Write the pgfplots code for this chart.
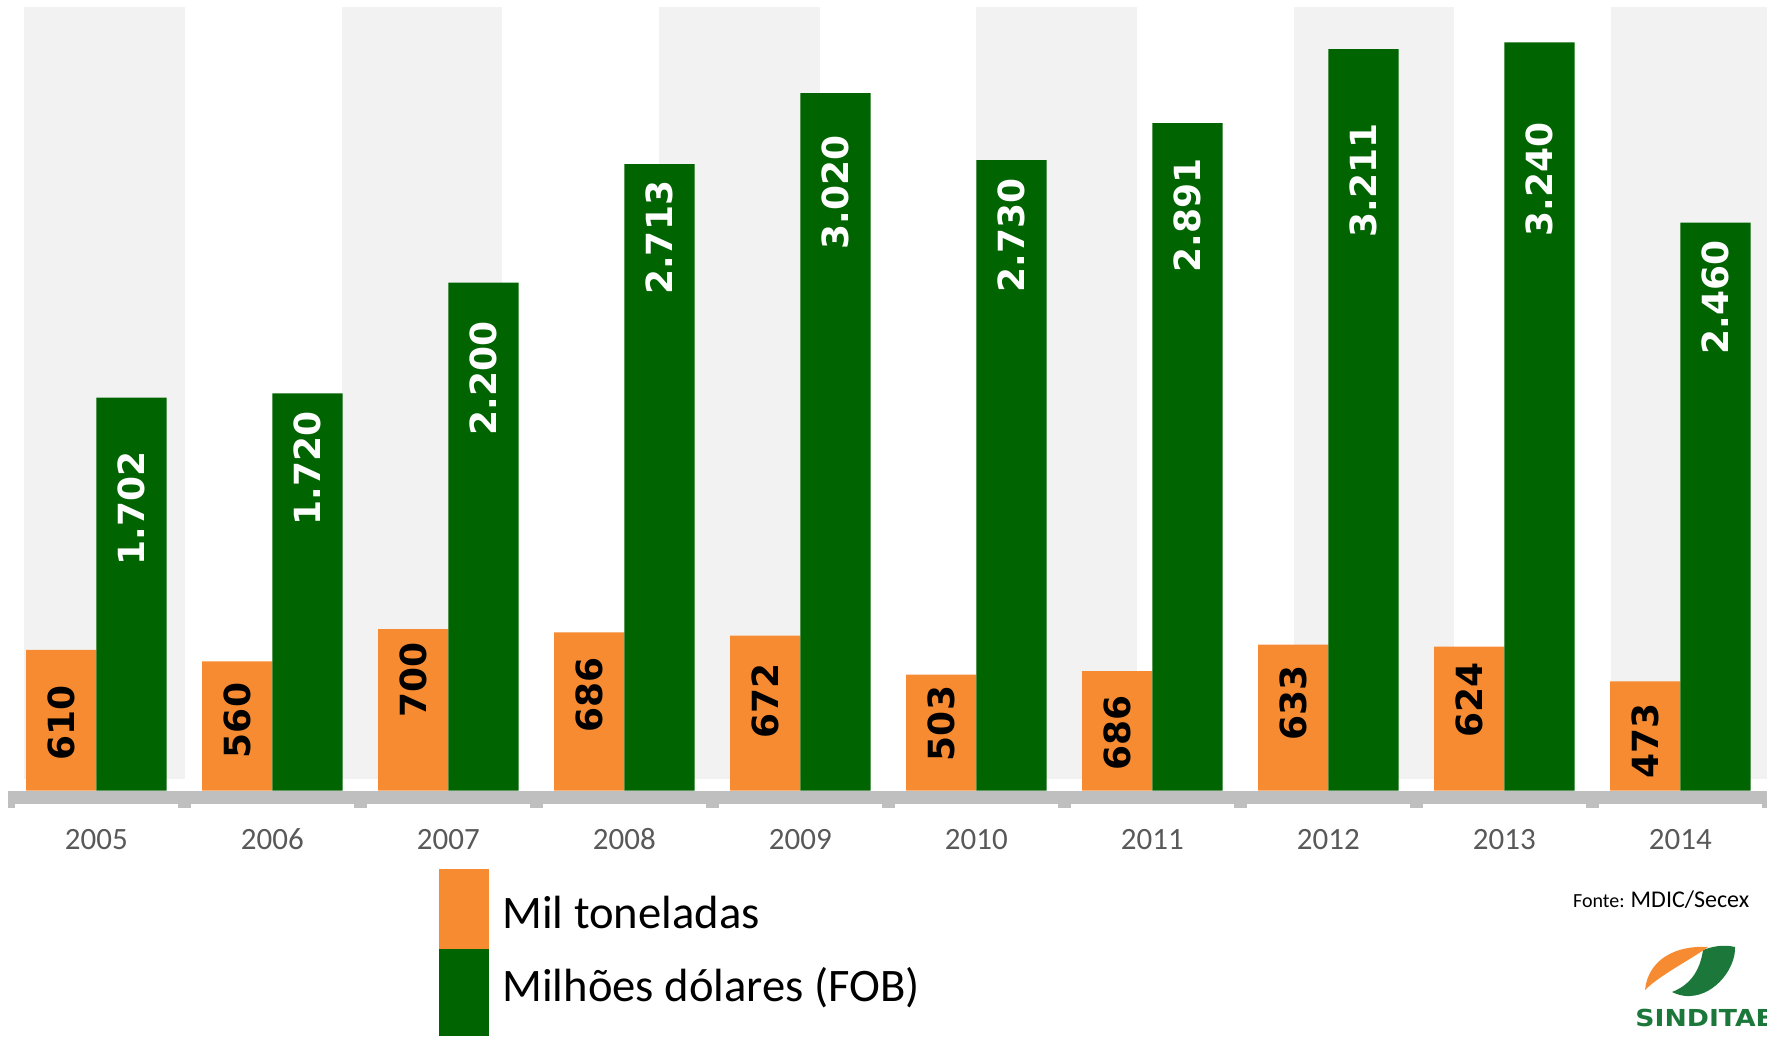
\documentclass[border=0pt]{standalone}
\usepackage{pgfplots}
\pgfplotsset{compat=1.18}
\usepackage{pgfplotstable}
\usepackage{fontspec}
\setmainfont{Carlito}
\newfontfamily\lblfont{DejaVu Sans}
\definecolor{cOrange}{RGB}{246,139,49}
\definecolor{cGreen}{RGB}{0,100,0}
\definecolor{cBand}{RGB}{242,242,242}
\definecolor{cAxis}{RGB}{191,191,191}
\definecolor{cTick}{RGB}{89,89,89}
\definecolor{cLogoG}{RGB}{28,120,58}

\pgfplotstableread{
x ton usd
0 610 1702
1 560 1720
2 700 2200
3 686 2713
4 672 3020
5 503 2730
6 518 2891
7 633 3211
8 624 3240
9 473 2460
}\bars

\pgfplotstableread{
x y lab
-0.2 295 610
0.8 304 560
1.8 481 700
2.8 413 686
3.8 388 672
4.8 291 503
5.8 250 686
6.8 380 633
7.8 391 624
8.8 215 473
}\tonlabels

\pgfplotstableread{
x y lab
0.2 1223 1.702
1.2 1394 1.720
2.2 1784 2.200
3.2 2394 2.713
4.2 2589 3.020
5.2 2404 2.730
6.2 2492 2.891
7.2 2643 3.211
8.2 2648 3.240
9.2 2135 2.460
}\usdlabels

\begin{document}
\begin{tikzpicture}
\path[use as bounding box] (0,0) rectangle (883.5pt,519.5pt);
\begin{axis}[
  at={(4.15pt,124.15pt)}, anchor=south west,
  scale only axis, width=880pt, height=395.35pt,
  xmin=-0.5, xmax=9.5, ymin=0, ymax=3423.7,
  clip=false,
  axis line style={draw=none},
  ytick=\empty,
  xtick={0,...,9},
  xticklabels={2005,2006,2007,2008,2009,2010,2011,2012,2013,2014},
  major tick length=0pt,
  xtick style={draw=none},
  xticklabel style={font=\fontsize{15.5}{17}\selectfont, text=cTick, anchor=base, yshift=-29.2pt},
]
% background stripes
\addplot[fill=cBand, draw=none, forget plot] coordinates {(-0.408,50.7) (0.504,50.7) (0.504,3393) (-0.408,3393)} -- cycle;
\addplot[fill=cBand, draw=none, forget plot] coordinates {(1.395,50.7) (2.307,50.7) (2.307,3393) (1.395,3393)} -- cycle;
\addplot[fill=cBand, draw=none, forget plot] coordinates {(3.198,50.7) (4.110,50.7) (4.110,3393) (3.198,3393)} -- cycle;
\addplot[fill=cBand, draw=none, forget plot] coordinates {(5.001,50.7) (5.913,50.7) (5.913,3393) (5.001,3393)} -- cycle;
\addplot[fill=cBand, draw=none, forget plot] coordinates {(6.804,50.7) (7.716,50.7) (7.716,3393) (6.804,3393)} -- cycle;
\addplot[fill=cBand, draw=none, forget plot] coordinates {(8.607,50.7) (9.5,50.7) (9.5,3393) (8.607,3393)} -- cycle;
% bars
\addplot[ybar, bar width=35.15pt, bar shift=-17.575pt, fill=cOrange, draw=none] table[x=x,y=ton]{\bars};
\addplot[ybar, bar width=35.15pt, bar shift=17.575pt, fill=cGreen, draw=none] table[x=x,y=usd]{\bars};
% value labels
\addplot[draw=none, mark=none, nodes near coords, point meta=explicit symbolic,
  nodes near coords align={center},
  every node near coord/.append style={rotate=90, inner sep=0pt, text=black, font=\lblfont\bfseries\fontsize{18}{18}\selectfont}]
  table[x=x,y=y,meta=lab]{\tonlabels};
\addplot[draw=none, mark=none, nodes near coords, point meta=explicit symbolic,
  nodes near coords align={center},
  every node near coord/.append style={rotate=90, inner sep=0pt, text=white, font=\lblfont\bfseries\fontsize{18}{18}\selectfont}]
  table[x=x,y=y,meta=lab]{\usdlabels};
% axis bar and ticks
\fill[cAxis] (axis cs:-0.5,0) rectangle ([yshift=-6.65pt]axis cs:9.5,0);
\fill[cAxis] ([yshift=-6.5pt]axis cs:-0.5,0) rectangle ([xshift=3.3pt,yshift=-8.6pt]axis cs:-0.5,0);
\pgfplotsinvokeforeach{0.5,1.5,2.5,3.5,4.5,5.5,6.5,7.5,8.5,9.5}{
  \fill[cAxis] ([xshift=-3.25pt,yshift=-6.5pt]axis cs:#1,0) rectangle ([xshift=3.25pt,yshift=-8.6pt]axis cs:#1,0);
}
\end{axis}
% legend
\fill[cOrange] (219.5pt,45pt) rectangle (244.5pt,85pt);
\fill[cGreen] (219.5pt,1.5pt) rectangle (244.5pt,45pt);
\node[anchor=base west, inner sep=0pt, font=\fontsize{23.3}{26}\selectfont] at (251pt,55pt) {Mil toneladas};
\node[anchor=base west, inner sep=0pt, font=\fontsize{23.3}{26}\selectfont] at (251pt,18.7pt) {Milhões dólares (FOB)};
% source
\node[anchor=base west, inner sep=0pt] at (786.35pt,65.5pt) {{\fontsize{10}{12}\selectfont Fonte:} {\fontsize{12}{14}\selectfont MDIC/Secex}};
% logo
\fill[cLogoG] (851.5pt,44.5pt) .. controls (858pt,47pt) and (863pt,47pt) .. (867.5pt,46pt)
  .. controls (868pt,36pt) and (858pt,22pt) .. (845pt,21.5pt)
  .. controls (841pt,21.3pt) and (838pt,22.5pt) .. (836pt,23.5pt)
  .. controls (845pt,27pt) and (850pt,34pt) .. (851.5pt,44.5pt) -- cycle;
\fill[cOrange] (822.5pt,24.5pt) .. controls (824pt,39.5pt) and (837.5pt,47pt) .. (854pt,46pt)
  .. controls (845pt,39.5pt) and (830pt,32pt) .. (822.5pt,24.5pt) -- cycle;
\node[anchor=base west, inner sep=0pt, text=cLogoG, font=\lblfont\bfseries\fontsize{11.7}{14}\selectfont] at (817.5pt,6.5pt) {\scalebox{1.14}[1]{SINDITAB}};
\end{tikzpicture}
\end{document}
